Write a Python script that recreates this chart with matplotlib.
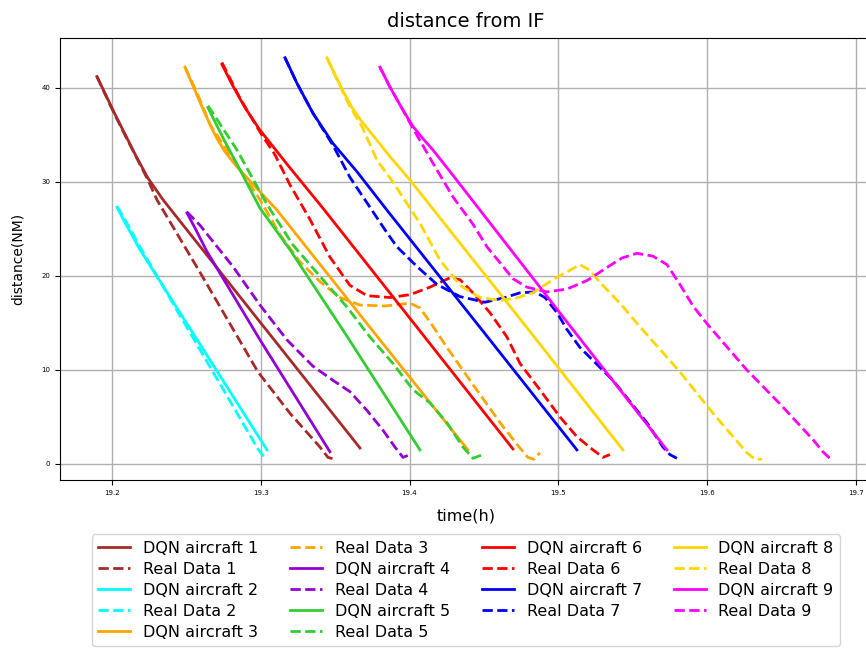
import numpy as np
from matplotlib import pyplot as plt

# values (time in hours, distance in NM)
colors = ['brown', 'cyan', 'orange', 'darkviolet', 'limegreen', 'red', 'blue', 'gold', 'magenta']

dqn1_t = [19.1899, 19.1960, 19.2020, 19.2087, 19.2160, 19.2242, 19.2343, 19.3667]
dqn1_d = [41.2, 39.2, 37.2, 35.1, 32.8, 30.4, 28.1, 1.7]
real1_t = [19.1899, 19.1987, 19.2087, 19.2242, 19.2302, 19.2591, 19.2981, 19.3196, 19.3398, 19.3452, 19.3499]
real1_d = [41.2, 38.2, 35.0, 30.2, 28.1, 20.4, 9.8, 5.4, 1.8, 0.7, 0.5]

dqn2_t = [19.2034, 19.2087, 19.2188, 19.3042]
dqn2_d = [27.3, 25.7, 22.8, 1.5]
real2_t = [19.2034, 19.2087, 19.2188, 19.2981, 19.3035]
real2_d = [27.4, 26.0, 23.1, 1.6, 0.5]

dqn3_t = [19.2491, 19.2545, 19.2599, 19.2659, 19.2706, 19.2760, 19.2840, 19.3109, 19.3801, 19.4392]
dqn3_d = [42.2, 40.2, 38.2, 36.1, 34.6, 33.2, 31.6, 27.0, 13.2, 1.5]
real3_t = [19.2491, 19.2571, 19.2659, 19.2840, 19.2995, 19.3129, 19.3263, 19.3398, 19.3532, 19.3667,
           19.3835, 19.4003, 19.4070, 19.4151, 19.4251, 19.4406, 19.4608, 19.4742, 19.4796, 19.4836, 19.4876]
real3_d = [42.2, 39.5, 36.1, 31.8, 28.1, 24.4, 21.5, 19.4, 17.7, 16.9,
           16.8, 17.1, 16.6, 14.8, 12.4, 8.9, 4.4, 1.7, 0.7, 0.5, 1.2]

dqn4_t = [19.2504, 19.2558, 19.2638, 19.2995, 19.3465]
dqn4_d = [26.7, 25.1, 22.6, 13.2, 1.3]
real4_t = [19.2504, 19.2591, 19.2813, 19.2995, 19.3176, 19.3351, 19.3485, 19.3599, 19.3714, 19.3821,
           19.3902, 19.3956, 19.4003]
real4_d = [26.8, 25.4, 21.0, 16.9, 13.2, 10.4, 8.9, 7.7, 5.7, 3.6, 1.8, 0.7, 1.0]

dqn5_t = [19.2645, 19.2692, 19.2759, 19.2860, 19.2995, 19.3196, 19.3579, 19.4070]
dqn5_d = [37.9, 36.4, 34.3, 31.3, 27.2, 22.8, 13.6, 1.5]
real5_t = [19.2645, 19.2679, 19.2840, 19.3042, 19.3216, 19.3418, 19.3579, 19.3734, 19.3888, 19.4023,
           19.4137, 19.4251, 19.4359, 19.4426, 19.4493]
real5_d = [38.1, 37.3, 33.4, 27.6, 23.3, 19.6, 16.7, 13.5, 10.7, 7.9, 6.5, 4.4, 1.8, 0.6, 1.0]

dqn6_t = [19.2739, 19.2806, 19.2894, 19.2995, 19.3196, 19.3418, 19.4117, 19.4695]
dqn6_d = [42.5, 40.4, 37.9, 35.5, 31.5, 27.2, 13.2, 1.6]
real6_t = [19.2739, 19.2860, 19.2995, 19.3095, 19.3196, 19.3331, 19.3465, 19.3599, 19.3714, 19.3868,
           19.4003, 19.4137, 19.4272, 19.4339, 19.4426, 19.4540, 19.4655, 19.4742, 19.4876, 19.5011,
           19.5125, 19.5233, 19.5300, 19.5347]
real6_d = [42.7, 38.9, 35.3, 32.9, 29.7, 26.0, 22.0, 19.0, 17.9, 17.7,
           18.0, 18.8, 19.8, 19.6, 18.2, 16.1, 13.5, 10.7, 7.9, 5.0,
           2.9, 1.5, 0.7, 1.0]

dqn7_t = [19.3163, 19.3243, 19.3351, 19.3485, 19.3646, 19.3848, 19.4540, 19.5125]
dqn7_d = [43.2, 40.5, 37.3, 34.1, 31.1, 27.0, 13.2, 1.5]
real7_t = [19.3163, 19.3243, 19.3351, 19.3485, 19.3599, 19.3734, 19.3835, 19.3915, 19.4050, 19.4184,
           19.4339, 19.4507, 19.4641, 19.4742, 19.4843, 19.4910, 19.4991, 19.5058, 19.5145, 19.5367,
           19.5595, 19.5703, 19.5750, 19.5797]
real7_d = [43.2, 40.5, 37.3, 33.9, 30.5, 27.3, 24.9, 23.1, 21.0, 19.1,
           17.8, 17.2, 17.7, 18.2, 18.3, 17.7, 16.1, 14.3, 12.4, 8.9,
           4.4, 1.8, 1.0, 0.6]

dqn8_t = [19.3445, 19.3499, 19.3552, 19.3613, 19.3680, 19.3767, 19.3868, 19.4003, 19.4789, 19.5434]
dqn8_d = [43.2, 41.4, 39.7, 37.9, 36.4, 34.7, 32.7, 30.2, 14.5, 1.5]
real8_t = [19.3445, 19.3512, 19.3599, 19.3680, 19.3781, 19.3888, 19.4003, 19.4070, 19.4204, 19.4339,
           19.4473, 19.4608, 19.4708, 19.4829, 19.4964, 19.5078, 19.5145, 19.5212, 19.5280, 19.5414,
           19.5548, 19.5817, 19.6039, 19.6267, 19.6321, 19.6368]
real8_d = [43.2, 40.9, 38.0, 35.9, 32.3, 30.0, 27.2, 25.6, 21.7, 19.0,
           17.7, 17.4, 17.6, 18.2, 19.6, 20.6, 21.2, 20.6, 19.3, 17.1,
           14.6, 9.8, 5.4, 1.2, 0.5, 0.5]

dqn9_t = [19.3801, 19.3868, 19.3950, 19.4023, 19.4090, 19.4157, 19.4272, 19.5058, 19.5730]
dqn9_d = [42.2, 40.1, 37.8, 35.9, 34.6, 33.4, 31.1, 15.1, 1.5]
real9_t = [19.3801, 19.3868, 19.4023, 19.4157, 19.4292, 19.4426, 19.4520, 19.4608, 19.4695, 19.4789,
           19.4923, 19.5058, 19.5192, 19.5327, 19.5427, 19.5528, 19.5636, 19.5730, 19.5817, 19.5905,
           19.6000, 19.6267, 19.6489, 19.6711, 19.6778, 19.6839]
real9_d = [42.2, 40.1, 35.7, 32.0, 28.4, 25.5, 23.1, 21.4, 19.7, 18.8,
           18.3, 18.6, 19.5, 20.9, 21.9, 22.4, 22.1, 21.2, 19.1, 16.8,
           14.9, 10.0, 6.4, 2.6, 1.3, 0.4]

dqn = [(dqn1_t, dqn1_d), (dqn2_t, dqn2_d), (dqn3_t, dqn3_d), (dqn4_t, dqn4_d), (dqn5_t, dqn5_d),
       (dqn6_t, dqn6_d), (dqn7_t, dqn7_d), (dqn8_t, dqn8_d), (dqn9_t, dqn9_d)]
real = [(real1_t, real1_d), (real2_t, real2_d), (real3_t, real3_d), (real4_t, real4_d), (real5_t, real5_d),
        (real6_t, real6_d), (real7_t, real7_d), (real8_t, real8_d), (real9_t, real9_d)]

fig = plt.figure(figsize=(8.66, 6.48), dpi=100)
# axes run slightly past the right edge, like the cropped original
ax = fig.add_axes([0.0693, 0.2593, 0.9376, 0.6821])

for i in range(9):
    ax.plot(dqn[i][0], dqn[i][1], color=colors[i], linestyle='-', linewidth=2,
            label='DQN aircraft %d' % (i + 1))
    ax.plot(real[i][0], real[i][1], color=colors[i], linestyle='--', linewidth=2,
            label='Real Data %d' % (i + 1))

ax.set_xlim(19.1651, 19.7108)
ax.set_ylim(-1.7, 45.3)
ax.set_xticks([19.2, 19.3, 19.4, 19.5, 19.6, 19.7])
ax.set_yticks([0, 10, 20, 30, 40])
ax.tick_params(labelsize=5)
ax.grid(True, color='#b0b0b0', linewidth=1)

ax.set_title('distance from IF', fontsize=14, pad=8)
ax.set_xlabel('time(h)', fontsize=11.5, labelpad=9)
ax.set_ylabel('distance(NM)', fontsize=10, labelpad=12)

ax.legend(loc='upper center', bbox_to_anchor=(0.5, -0.105), ncol=4, fontsize=11.5,
          labelspacing=0.38)

plt.savefig('out.png', dpi=100)
